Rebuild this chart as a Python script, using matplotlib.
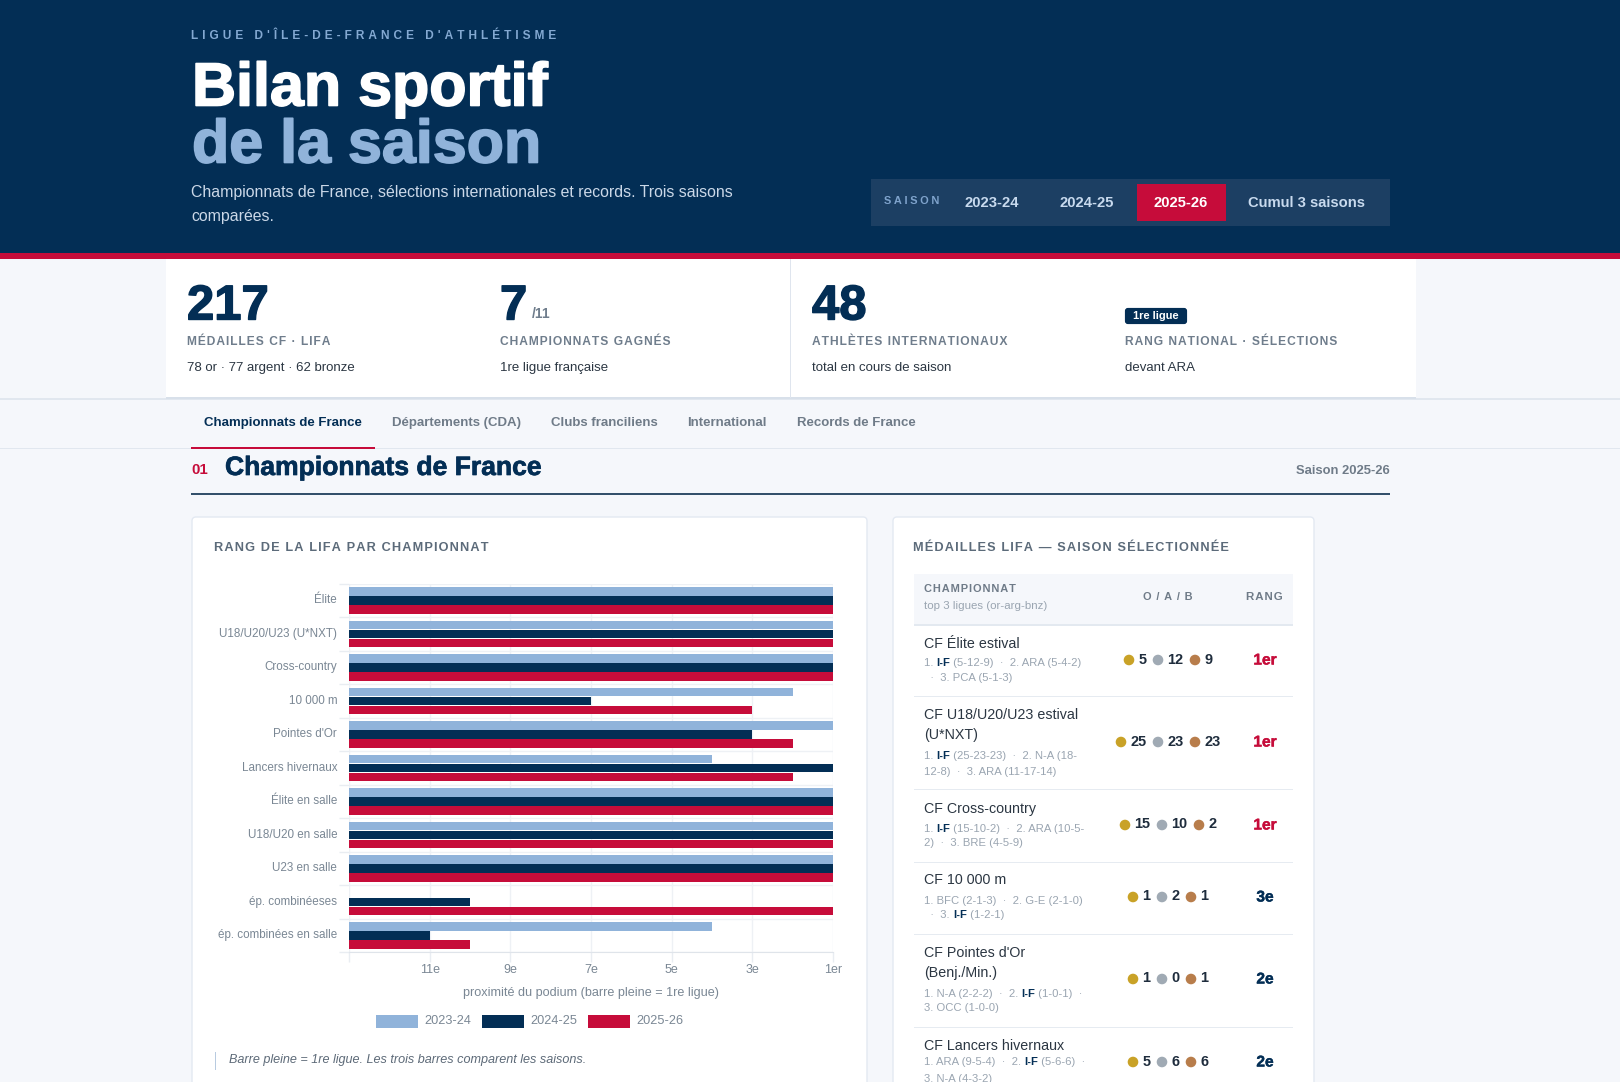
import matplotlib
matplotlib.use("Agg")
import matplotlib.pyplot as plt
import matplotlib.patheffects as pe
import matplotlib.transforms as mtrans
from matplotlib.patches import Rectangle, FancyBboxPatch, Circle

plt.rcParams['font.family'] = ['Liberation Sans', 'DejaVu Sans']

NAVY = '#032e55'
RED = '#c60c3a'
LIGHT = '#90b3da'
PAGE = '#f5f7fb'
HAIR = '\u200a'

# chart data: rank per championship (None = no rank that season)
categories = ['Élite', 'U18/U20/U23 (U*NXT)', 'Cross-country', '10 000 m', "Pointes d'Or",
              'Lancers hivernaux', 'Élite en salle', 'U18/U20 en salle', 'U23 en salle',
              'ép. combinéeses', 'ép. combinées en salle']
rank_2324 = [1, 1, 1, 2, 1, 4, 1, 1, 1, None, 4]
rank_2425 = [1, 1, 1, 7, 3, 1, 1, 1, 1, 10, 11]
rank_2526 = [1, 1, 1, 3, 2, 2, 1, 1, 1, 1, 10]
seasons = ['2023-24', '2024-25', '2025-26']
tick_ranks = [13, 11, 9, 7, 5, 3, 1]
tick_labels = ['', '11e', '9e', '7e', '5e', '3e', '1er']

# table data
row_names = [['CF Élite estival'], ['CF U18/U20/U23 estival', '(U*NXT)'], ['CF Cross-country'],
             ['CF 10 000 m'], ["CF Pointes d'Or", '(Benj./Min.)'], ['CF Lancers hivernaux']]
row_top3 = [
    [('1. ', 'I-F', ' (5-12-9)  ·  2. ARA (5-4-2)'), ('  ·  3. PCA (5-1-3)', '', '')],
    [('1. ', 'I-F', ' (25-23-23)  ·  2. N-A (18-'), ('12-8)  ·  3. ARA (11-17-14)', '', '')],
    [('1. ', 'I-F', ' (15-10-2)  ·  2. ARA (10-5-'), ('2)  ·  3. BRE (4-5-9)', '', '')],
    [('1. BFC (2-1-3)  ·  2. G-E (2-1-0)', '', ''), ('  ·  3. ', 'I-F', ' (1-2-1)')],
    [('1. N-A (2-2-2)  ·  2. ', 'I-F', ' (1-0-1)  ·'), ('3. OCC (1-0-0)', '', '')],
    [('1. ARA (9-5-4)  ·  2. ', 'I-F', ' (5-6-6)  ·'), ('3. N-A (4-3-2)', '', '')],
]
row_medals = [(5, 12, 9), (25, 23, 23), (15, 10, 2), (1, 2, 1), (1, 0, 1), (5, 6, 6)]
row_ranks = ['1er', '1er', '1er', '3e', '2e', '2e']

# layout of the rows, in pixels
row_name_y = [[644], [715, 735], [809], [880], [953, 973], [1046]]
row_small_y = [[663, 678], [756, 772], [829, 843], [901, 915], [994, 1008], [1062, 1079]]
row_mid_y = [660, 742, 825, 897, 979, 1062]
row_line_y = [696, 789, 862, 934, 1027]


def px(size):
    return size * 0.72


def spaced(s, n=1):
    return (HAIR * n).join(s)


fig = plt.figure(figsize=(16.2, 10.82), dpi=100, facecolor=PAGE)
bg = fig.add_axes([0, 0, 1, 1])
bg.set_xlim(0, 1620)
bg.set_ylim(1082, 0)
bg.axis('off')


def rect(x0, y0, x1, y1, color, **kw):
    bg.add_patch(Rectangle((x0, y0), x1 - x0, y1 - y0, facecolor=color, edgecolor='none', **kw))


def label(x, y, s, size, color, weight='normal', ha='left', style='normal', stroke=0, clip=False):
    t = bg.text(x, y, s, fontsize=px(size), color=color, fontweight=weight, ha=ha, va='center',
                style=style, clip_on=clip)
    if stroke:
        t.set_path_effects([pe.withStroke(linewidth=stroke, foreground=color)])
    return t


def text_width(s, size, weight):
    r = fig.canvas.get_renderer()
    a = bg.text(0, 0, s + '|', fontsize=px(size), fontweight=weight)
    b = bg.text(0, 0, '|', fontsize=px(size), fontweight=weight)
    w = a.get_window_extent(r).width - b.get_window_extent(r).width
    a.remove()
    b.remove()
    return w


# header
rect(0, 0, 1620, 253, NAVY)
rect(0, 253, 1620, 259, RED)
label(191, 36, spaced("LIGUE D'ÎLE-DE-FRANCE D'ATHLÉTISME", 4), 11.9, '#84a9d2', 'bold')
label(192, 90, 'Bilan sportif', 61, 'white', 'bold', stroke=1.2)
label(192, 147, 'de la saison', 61, '#90b3da', 'bold', stroke=1.2)
label(191, 193, 'Championnats de France, sélections internationales et records. Trois saisons', 15.9, '#cbd8e8')
label(191, 216, 'comparées.', 15.9, '#cbd8e8')

# season selector
rect(871, 179, 1390, 226, '#1c3f63')
rect(1137, 184, 1226, 221, RED)
label(884, 201, spaced('SAISON', 3), 11, '#7fa3cc', 'bold')
for cx, s, c in [(992, '2023-24', '#c8daee'), (1087, '2024-25', '#c8daee'),
                 (1181, '2025-26', 'white'), (1307, 'Cumul 3 saisons', '#c8daee')]:
    label(cx, 203, s, 14.8, c, 'bold', ha='center')

# key figures
rect(0, 398, 1620, 400, '#e1e7ef')
rect(166, 259, 1416, 398, 'white')
rect(166, 397, 1416, 399, '#d8e0ea')
rect(790, 259, 791, 398, '#dfe5ee')
label(187, 307, '217', 49, NAVY, 'bold', stroke=1)
label(500, 307, '7', 49, NAVY, 'bold', stroke=1)
label(532, 314, '/11', 14, '#6f7d8c', 'bold')
label(812, 307, '48', 49, NAVY, 'bold', stroke=1)
bg.add_patch(FancyBboxPatch((1127, 310), 58, 12, boxstyle='round,pad=0,rounding_size=1',
                            facecolor=NAVY, edgecolor=NAVY, linewidth=3))
label(1156, 316, '1re ligue', 11, 'white', 'bold', ha='center')
for x, s, sub in [(187, 'MÉDAILLES CF · LIFA', '78 or · 77 argent · 62 bronze'),
                  (500, 'CHAMPIONNATS GAGNÉS', '1re ligue française'),
                  (812, 'ATHLÈTES INTERNATIONAUX', 'total en cours de saison'),
                  (1125, 'RANG NATIONAL · SÉLECTIONS', 'devant ARA')]:
    label(x, 342, spaced(s), 12, '#6f7d8c', 'bold')
    label(x, 368, sub, 13.2, '#2b3642')

# tabs
rect(0, 448, 1620, 449, '#e1e7ef')
rect(191, 446.5, 375, 448.5, RED)
for x, s, c in [(204, 'Championnats de France', NAVY), (392, 'Départements (CDA)', '#6f7b88'),
                (551, 'Clubs franciliens', '#6f7b88'), (687, 'International', '#6f7b88'),
                (797, 'Records de France', '#6f7b88')]:
    label(x, 423, s, 13.2, c, 'bold')

# section title
label(191, 470, '01', 15, RED, 'bold')
label(225, 468, 'Championnats de France', 26.5, NAVY, 'bold', stroke=0.5)
label(1390, 471, 'Saison 2025-26', 13, '#6f7b88', 'bold', ha='right')
rect(191, 493, 1390, 494.7, '#33506b')

# cards
for x0, x1 in [(192, 867), (893, 1314)]:
    bg.add_patch(FancyBboxPatch((x0, 517), x1 - x0, 600, boxstyle='round,pad=0,rounding_size=4',
                                facecolor='white', edgecolor='#e3e9f2', linewidth=1, clip_on=True))
label(214, 548, spaced('RANG DE LA LIFA PAR CHAMPIONNAT'), 12.7, '#5c6b7a', 'bold')
label(913, 548, spaced('MÉDAILLES LIFA — SAISON SÉLECTIONNÉE'), 12.7, '#5c6b7a', 'bold')

# bar chart
ax = fig.add_axes([349 / 1620, (1082 - 952) / 1082, 484 / 1620, 368 / 1082], facecolor='none')
series = [(rank_2324, LIGHT), (rank_2425, NAVY), (rank_2526, RED)]
for k, (ranks, color) in enumerate(series):
    for i, r in enumerate(ranks):
        if r is not None:
            ax.barh(i + (k - 1) * 0.27, 13 - r, height=0.255, color=color, zorder=3)
ax.set_xlim(0, 12)
ax.set_ylim(len(categories) - 0.5, -0.5)
ax.set_xticks([13 - r for r in tick_ranks])
ax.set_xticklabels(tick_labels, fontsize=px(12.5), color='#7a8794')
ax.set_yticks(range(len(categories)))
ax.set_yticklabels(categories, fontsize=px(11.6), color='#7a8794')
ax.set_yticks([i - 0.5 for i in range(len(categories) + 1)], minor=True)
ax.tick_params(axis='y', which='major', length=0, pad=8.5)
ax.tick_params(axis='y', which='minor', length=7, color='#e9edf2', width=1)
ax.tick_params(axis='x', length=7, color='#e9edf2', width=1, pad=1.8)
ax.grid(True, which='minor', axis='y', color='#eef1f5', lw=1, zorder=0)
ax.grid(True, which='major', axis='x', color='#eef1f5', lw=1, zorder=0)
for side in ['top', 'right', 'left']:
    ax.spines[side].set_visible(False)
ax.spines['bottom'].set_color('#dfe4ea')
ax.set_xlabel('proximité du podium (barre pleine = 1re ligue)', fontsize=px(12.6), color='#7a8794', labelpad=8)
# category labels sit a little above the band centre
up = mtrans.ScaledTranslation(0, 1.3 / 72, fig.dpi_scale_trans)
for tick_label in ax.get_yticklabels():
    tick_label.set_transform(tick_label.get_transform() + up)
for x, s, c in zip([376, 482, 588], seasons, [LIGHT, NAVY, RED]):
    rect(x, 1015, x + 42, 1028, c)
    label(x + 48.5, 1021, s, 12.8, '#7a8794')

# note
rect(214.5, 1052, 215.5, 1070, '#b8cbe0')
label(229, 1060, 'Barre pleine = 1re ligue. Les trois barres comparent les saisons.', 12.6, '#5d6a78', style='italic')

# table head
rect(914, 574, 1293, 624, PAGE)
rect(914, 624, 1293, 625.5, '#e3e9f0')
label(924, 589, spaced('CHAMPIONNAT'), 11, '#6f7b88', 'bold')
label(924, 606, 'top 3 ligues (or-arg-bnz)', 11.5, '#9aa5b1')
label(1168, 597, spaced('O / A / B'), 11, '#6f7b88', 'bold', ha='center')
label(1264, 597, spaced('RANG'), 11.5, '#6f7b88', 'bold', ha='center')

MEDAL_COLORS = ['#c9a227', '#a0aab4', '#b87d4b']
for y in row_line_y:
    rect(914, y, 1293, y + 1, '#e6ebf1')
for i in range(len(row_names)):
    for y, s in zip(row_name_y[i], row_names[i]):
        label(924, y, s, 14.2, '#2b3642', clip=True)
    for y, parts in zip(row_small_y[i], row_top3[i]):
        x = 924
        for s, weight, c in zip(parts, ['normal', 'bold', 'normal'], ['#9aa5b1', NAVY, '#9aa5b1']):
            if s:
                label(x, y, s, 11.3, c, weight, clip=True)
                x += text_width(s, 11.3, weight)
    # medals are centred as one inline group
    widths = [14 + 8 * len(str(m)) for m in row_medals[i]]
    x = 1168 - (sum(widths) + 14) / 2
    for m, w, c in zip(row_medals[i], widths, MEDAL_COLORS):
        bg.add_patch(Circle((x + 5, row_mid_y[i]), 5.3, facecolor=c, edgecolor='none'))
        label(x + 14.5, row_mid_y[i] - 0.5, str(m), 14.5, '#1f2d3d', 'bold')
        x += w + 7
    c = RED if row_ranks[i] == '1er' else NAVY
    label(1265, row_mid_y[i], row_ranks[i], 15.5, c, 'bold', ha='center', stroke=0.3)

fig.savefig('out.png', dpi=100, facecolor=fig.get_facecolor())
